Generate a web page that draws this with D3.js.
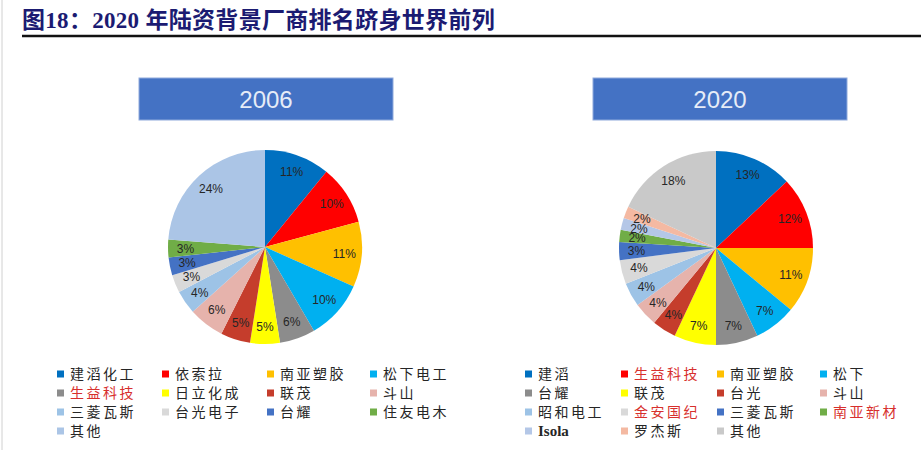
<!DOCTYPE html>
<html>
<head>
<meta charset="utf-8">
<script src="https://cdn.jsdelivr.net/npm/d3@7"></script>
<style>
  body { margin: 0; background: #fff; }
  svg { display: block; }
</style>
</head>
<body>
<div id="chart"></div>
<script>
// data
const years = ["2006", "2020"];

const names2006 = ["建滔化工", "依索拉", "南亚塑胶", "松下电工", "生益科技", "日立化成", "联茂",
  "斗山", "三菱瓦斯", "台光电子", "台耀", "住友电木", "其他"];
const share2006 = [11, 10, 11, 10, 6, 5, 5, 6, 4, 3, 3, 3, 24];
const colors2006 = ["#0070C0", "#FF0000", "#FFC000", "#00B0F0", "#8C8C8C", "#FFFF00", "#C53D2C",
  "#E6B3AC", "#9DC3E6", "#D9D9D9", "#4472C4", "#70AD47", "#ABC5E6"];
const red2006 = ["生益科技"];

const names2020 = ["建滔", "生益科技", "南亚塑胶", "松下", "台耀", "联茂", "台光", "斗山",
  "昭和电工", "金安国纪", "三菱瓦斯", "南亚新材", "Isola", "罗杰斯", "其他"];
const share2020 = [13, 12, 11, 7, 7, 7, 4, 4, 4, 4, 3, 2, 2, 2, 18];
const colors2020 = ["#0070C0", "#FF0000", "#FFC000", "#00B0F0", "#8C8C8C", "#FFFF00", "#C53D2C",
  "#E6B3AC", "#9DC3E6", "#D9D9D9", "#4472C4", "#70AD47", "#B4C7E7", "#F4B9A2", "#C9C9C9"];
const red2020 = ["生益科技", "金安国纪", "南亚新材"];

const width = 921, height = 450;

const svg = d3.select("#chart")
  .append("svg")
  .attr("width", width)
  .attr("height", height);

// left edge rule and title
svg.append("line")
  .attr("x1", 2).attr("x2", 2).attr("y1", 0).attr("y2", height)
  .style("stroke", "#d0d0d0").style("stroke-width", 1);

svg.append("text")
  .attr("x", 22).attr("y", 28)
  .style("font-family", "'Liberation Serif', 'Noto Sans CJK SC', serif")
  .style("font-weight", "bold")
  .style("font-size", "23px")
  .style("letter-spacing", "0.3px")
  .style("fill", "#1b1b72")
  .text("图18：2020 年陆资背景厂商排名跻身世界前列");

svg.append("line")
  .attr("x1", 22).attr("x2", width).attr("y1", 36).attr("y2", 36)
  .style("stroke", "#111").style("stroke-width", 2.5);

const panels = [
  { year: years[0], names: names2006, values: share2006, colors: colors2006, red: red2006,
    cx: 265, cy: 247, bannerX: 139, legendX: 57, colW: [105, 105, 103] },
  { year: years[1], names: names2020, values: share2020, colors: colors2020, red: red2020,
    cx: 716, cy: 248, bannerX: 593, legendX: 525, colW: [96, 96, 103] }
];

const radius = 97;
const pie = d3.pie().sort(null).value(d => d);
const arc = d3.arc().innerRadius(0).outerRadius(radius);
const labelArc = d3.arc().innerRadius(radius * 0.82).outerRadius(radius * 0.82);

panels.forEach(p => {
  // year banner
  svg.append("rect")
    .attr("x", p.bannerX).attr("y", 78)
    .attr("width", 254).attr("height", 42)
    .style("fill", "#4472C4")
    .style("stroke", "#8FAADC").style("stroke-width", 1);

  svg.append("text")
    .attr("x", p.bannerX + 127).attr("y", 108)
    .attr("text-anchor", "middle")
    .style("font-family", "'Liberation Sans', Arial, sans-serif")
    .style("font-size", "24px")
    .style("fill", "#E6ECF7")
    .text(p.year);

  // pie
  const g = svg.append("g")
    .attr("transform", "translate(" + p.cx + "," + p.cy + ")");

  const arcs = pie(p.values);

  g.selectAll("path")
    .data(arcs)
    .enter()
    .append("path")
      .attr("d", arc)
      .style("fill", (d, i) => p.colors[i]);

  g.selectAll("text")
    .data(arcs)
    .enter()
    .append("text")
      .attr("transform", d => "translate(" + labelArc.centroid(d) + ")")
      .attr("text-anchor", "middle")
      .attr("dy", "0.36em")
      .style("font-family", "'Liberation Sans', Arial, sans-serif")
      .style("font-size", "12px")
      .style("fill", "#262626")
      .text(d => d.data + "%");

  // legend, 4 columns
  const colX = [0];
  p.colW.forEach((w, i) => colX.push(colX[i] + w));

  const item = svg.append("g")
    .selectAll("g")
    .data(p.names)
    .enter()
    .append("g")
      .attr("transform", (d, i) => "translate(" + (p.legendX + colX[i % 4]) + "," + (374 + Math.floor(i / 4) * 19) + ")");

  item.append("rect")
    .attr("x", 0).attr("y", -3.5)
    .attr("width", 7).attr("height", 7)
    .style("fill", (d, i) => p.colors[i]);

  item.append("text")
    .attr("x", 13).attr("y", 5)
    .style("font-family", "'Liberation Serif', 'Noto Sans CJK SC', serif")
    .style("font-size", d => /^[A-Za-z]+$/.test(d) ? "15px" : "14px")
    .style("font-weight", d => /^[A-Za-z]+$/.test(d) ? "bold" : "normal")
    .style("letter-spacing", d => /^[A-Za-z]+$/.test(d) ? "0px" : "2.5px")
    .style("fill", d => p.red.includes(d) ? "#D7302D" : "#262626")
    .text(d => d);
});
</script>
</body>
</html>
